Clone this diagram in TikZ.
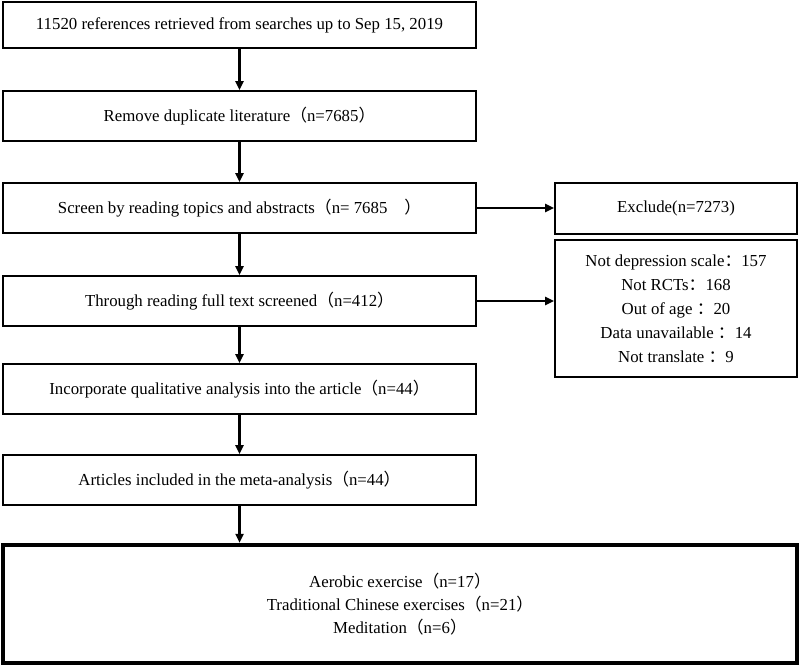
\documentclass[tikz,border=0pt]{standalone}
\usepackage{fontspec}
\setmainfont{Liberation Serif}
\newfontfamily\cjk{Noto Sans CJK SC}
\usetikzlibrary{arrows.meta}
\newcommand{\lp}{{\cjk （}}
\newcommand{\rp}{{\cjk ）}}
\newcommand{\fc}{{\cjk ：}}

\begin{document}
\begin{tikzpicture}[x=1pt,y=-1pt,
    font=\fontsize{16.8}{23}\selectfont,
    box/.style={draw,line width=1.6pt,minimum width=473pt,minimum height=50pt,inner sep=0pt},
    side/.style={draw,line width=1.6pt,minimum width=242pt,inner sep=0pt,align=center},
    go/.style={line width=2.4pt,-{Triangle[length=9pt,width=8pt]}}]
    \useasboundingbox (0,0) rectangle (800,667);
    \node[box,minimum height=46pt] (R) at (239.5,25) {11520 references retrieved from searches up to Sep 15, 2019};
    \node[box] (D) at (239.5,116) {Remove duplicate literature\lp n=7685\rp};
    \node[box] (S) at (239.5,208) {Screen by reading topics and abstracts\lp n= 7685\quad\rp};
    \node[box] (F) at (239.5,301) {Through reading full text screened\lp n=412\rp};
    \node[box] (Q) at (239.5,389) {Incorporate qualitative analysis into the article\lp n=44\rp};
    \node[box] (M) at (239.5,480) {Articles included in the meta-analysis\lp n=44\rp};
    \node[draw,line width=4.5pt,minimum width=794pt,minimum height=118pt,align=center] (T) at (400,604)
      {Aerobic exercise\lp n=17\rp\\ Traditional Chinese exercises\lp n=21\rp\\ Meditation\lp n=6\rp};
    \node[side,minimum height=51pt] (E) at (676,208.5) {Exclude(n=7273)};
    \node[side,minimum height=137pt,font=\fontsize{16.8}{24}\selectfont] (L) at (676,308.5)
      {Not depression scale\fc 157\\ Not RCTs\fc 168\\ Out of age \fc 20\\ Data unavailable \fc 14\\ Not translate \fc 9};
    \draw[go] (R) -- (D);
    \draw[go] (D) -- (S);
    \draw[go] (S) -- (F);
    \draw[go] (F) -- (Q);
    \draw[go] (Q) -- (M);
    \draw[go] (M) -- (M |- T.north);
    \draw[go] (S.east) -- (S.east -| E.west);
    \draw[go] (F.east) -- (F.east -| L.west);
\end{tikzpicture}
\end{document}
